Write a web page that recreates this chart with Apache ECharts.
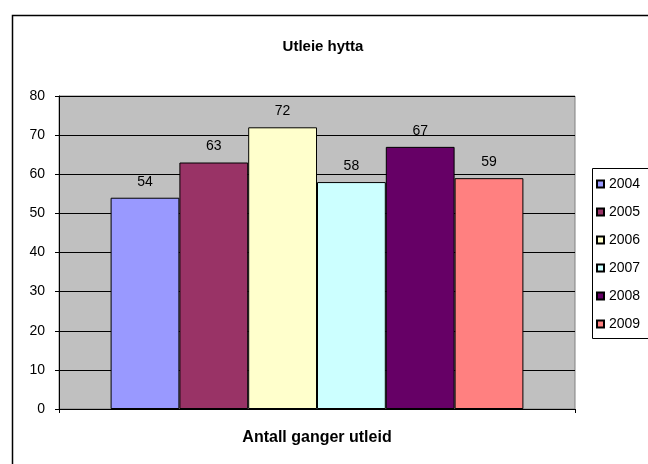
<!DOCTYPE html>
<html>
<head>
<meta charset="utf-8">
<script src="https://cdn.jsdelivr.net/npm/echarts@6/dist/echarts.min.js"></script>
<style>
html,body{margin:0;padding:0;background:#fff;}
#c{width:648px;height:464px;}
</style>
</head>
<body>
<div id="c"></div>
<script>
const title = 'Utleie hytta';
const categories = ['Antall ganger utleid'];
const seriesNames = ['2004', '2005', '2006', '2007', '2008', '2009'];
const seriesValues = [54, 63, 72, 58, 67, 59];
const seriesColors = ['#9999FF', '#993366', '#FFFFCC', '#CCFFFF', '#660066', '#FF8080'];
const yTicks = [0, 10, 20, 30, 40, 50, 60, 70, 80];

const FONT = '"Liberation Sans", Arial, sans-serif';
const chart = echarts.init(document.getElementById('c'), null, {renderer: 'canvas'});

const series = seriesNames.map((n, i) => ({
  name: n,
  type: 'bar',
  data: [seriesValues[i]],
  barGap: '0%',
  barCategoryGap: '20%',
  itemStyle: {color: seriesColors[i], borderColor: '#000', borderWidth: 1},
  label: {show: true, position: 'top', distance: 9, color: '#000', fontFamily: FONT, fontSize: 14},
  emphasis: {disabled: true}
}));

chart.setOption({
  animation: false,
  backgroundColor: '#fff',
  title: {
    text: title, left: 318, top: 34, textAlign: 'center',
    textStyle: {fontFamily: FONT, fontSize: 15, fontWeight: 'bold', color: '#000'}
  },
  legend: {
    orient: 'vertical', left: 591, top: 172,
    itemWidth: 7, itemHeight: 7, itemGap: 14,
    icon: 'rect',
    textStyle: {fontFamily: FONT, fontSize: 14, lineHeight: 14, color: '#000'},
    data: seriesNames,
    selectedMode: false
  },
  grid: {left: 59, right: 73, top: 96, bottom: 55, show: true, backgroundColor: '#C0C0C0', borderColor: '#808080', borderWidth: 1},
  xAxis: {
    type: 'category', data: categories,
    axisLine: {lineStyle: {color: '#000', width: 1}},
    axisTick: {show: true, length: 4, lineStyle: {color: '#000'}},
    axisLabel: {fontFamily: FONT, fontSize: 16, fontWeight: 'bold', color: '#000', margin: 21}
  },
  yAxis: {
    type: 'value', min: yTicks[0], max: yTicks[yTicks.length - 1], interval: 10,
    axisLine: {show: true, lineStyle: {color: '#000', width: 1}},
    axisTick: {show: true, length: 4, lineStyle: {color: '#000'}},
    axisLabel: {fontFamily: FONT, fontSize: 14, color: '#000', margin: 14},
    splitLine: {show: true, lineStyle: {color: '#000', width: 1}}
  },
  graphic: [
    {type: 'rect', left: 10, top: 13, shape: {width: 660, height: 470}, style: {fill: 'none', stroke: '#000', lineWidth: 1.5}, silent: true},
    {type: 'rect', left: 590, top: 166, shape: {width: 70, height: 170}, style: {fill: 'none', stroke: '#000', lineWidth: 1}, silent: true}
  ],
  series: series
});
</script>
</body>
</html>
